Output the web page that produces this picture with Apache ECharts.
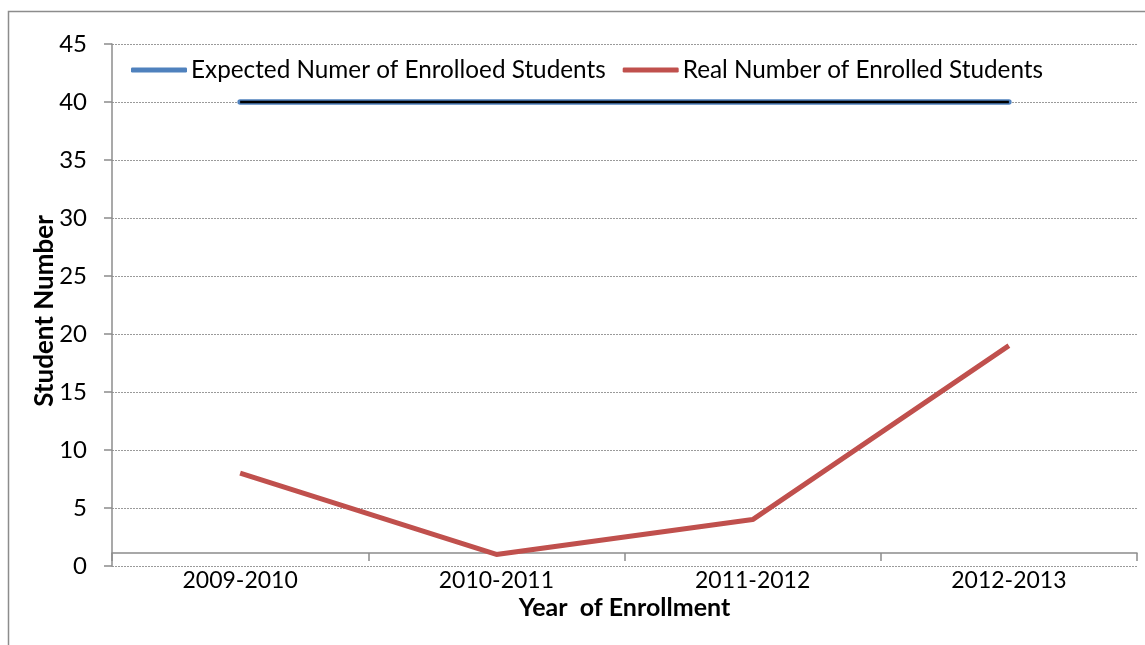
<!DOCTYPE html>
<html><head><meta charset="utf-8">
<script src="https://cdn.jsdelivr.net/npm/echarts@6/dist/echarts.min.js"></script>
<style>html,body{margin:0;padding:0;background:#fff}#c{width:1145px;height:645px}</style>
</head><body><div id="c"></div>
<script>
const categories = ['2009-2010', '2010-2011', '2011-2012', '2012-2013'];
const expected = [40, 40, 40, 40];
const real = [8, 1, 4, 19];
const yTicks = [0, 5, 10, 15, 20, 25, 30, 35, 40, 45];
const seriesNames = ['Expected Numer of Enrolloed Students', 'Real Number of Enrolled Students'];

const FONT = 'Lato';
const chart = echarts.init(document.getElementById('c'));
chart.setOption({
  animation: false,
  backgroundColor: '#fff',
  textStyle: { fontFamily: FONT, color: '#000' },
  graphic: [{
    type: 'rect', shape: { x: 8.5, y: 11.5, width: 1145, height: 645 },
    style: { fill: 'none', stroke: '#8c8c8c', lineWidth: 1.5 }, silent: true, z: -10
  }],
  grid: { left: 112, right: 8, top: 44, bottom: 79 },
  legend: {
    data: seriesNames, left: 126, top: 53, itemWidth: 56, itemHeight: 5, itemGap: 17,
    icon: 'roundRect',
    textStyle: { fontFamily: FONT, fontSize: 24.3, color: '#000', padding: [0, 0, 0, -1] }
  },
  xAxis: {
    type: 'category', data: categories, boundaryGap: true, offset: -13,
    name: 'Year  of Enrollment', nameLocation: 'middle', nameGap: 42, nameMoveOverlap: false,
    nameTextStyle: { fontFamily: FONT, fontSize: 25, fontWeight: 'bold', color: '#000' },
    axisLine: { show: true, lineStyle: { color: '#8c8c8c', width: 1.5 } },
    axisTick: { show: true, length: 8, inside: false, lineStyle: { color: '#8c8c8c', width: 1.5 } },
    axisLabel: { margin: 16, fontFamily: FONT, fontSize: 23, color: '#000' },
    splitLine: { show: false }
  },
  yAxis: {
    type: 'value', min: 0, max: 45, interval: 5,
    name: 'Student Number', nameLocation: 'middle', nameGap: 54, nameRotate: 90, nameMoveOverlap: false,
    nameTextStyle: { fontFamily: FONT, fontSize: 26, fontWeight: 'bold', color: '#000', padding: [0, 12, 0, 0] },
    axisLine: { show: true, lineStyle: { color: '#8c8c8c', width: 1.5 } },
    axisTick: { show: true, length: 8, lineStyle: { color: '#8c8c8c', width: 1.5 } },
    axisLabel: {
      margin: 25, fontFamily: FONT, fontSize: 24, color: '#000',
      formatter: v => yTicks.includes(v) ? String(v) : ''
    },
    splitLine: { show: true, lineStyle: { color: '#9a9a9a', type: [2, 1], width: 1 } }
  },
  series: [
    {
      name: seriesNames[0], type: 'line', data: expected, symbol: 'none',
      lineStyle: { color: '#4F81BD', width: 5.5, cap: 'round' }, itemStyle: { color: '#4F81BD' }, z: 3
    },
    {
      name: 'expected-core', type: 'line', data: expected, symbol: 'none',
      lineStyle: { color: '#000', width: 2.5 }, itemStyle: { color: '#000' }, z: 4, silent: true
    },
    {
      name: seriesNames[1], type: 'line', data: real, symbol: 'none',
      lineStyle: { color: '#C0504D', width: 5 }, itemStyle: { color: '#C0504D' }, z: 5
    }
  ]
});
</script></body></html>
